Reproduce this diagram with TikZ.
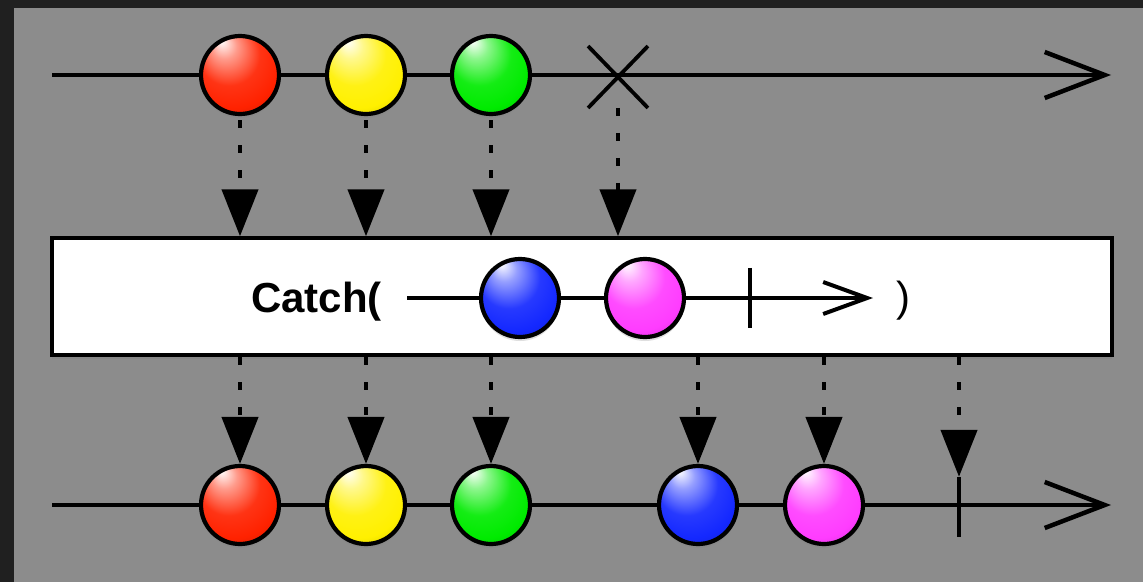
\documentclass[tikz,border=0pt]{standalone}
\usepackage{fontspec}
\setmainfont{Liberation Sans}
\usetikzlibrary{arrows.meta,shadows,shapes.misc}
\definecolor{bgdark}{RGB}{32,32,32}
\definecolor{bggray}{RGB}{140,140,140}
\definecolor{mred}{RGB}{255,34,0}
\definecolor{myellow}{RGB}{255,240,0}
\definecolor{mgreen}{RGB}{0,235,0}
\definecolor{mblue}{RGB}{20,40,255}
\definecolor{mmagenta}{RGB}{255,60,255}
\newcommand\declmarble[1]{%
  \pgfdeclareradialshading{marble#1}{\pgfpoint{-12bp}{22bp}}{%
    color(0bp)=(white);
    color(8bp)=(#1!45!white);
    color(20bp)=(#1!92!white);
    color(30bp)=(#1);
    color(40bp)=(#1!80!black);
    color(50bp)=(#1!50!black)}}
\declmarble{mred}
\declmarble{myellow}
\declmarble{mgreen}
\declmarble{mblue}
\declmarble{mmagenta}
\begin{document}
\begin{tikzpicture}[x=1pt,y=-1pt,
  marble/.style={circle, draw=black, line width=4.2pt, minimum size=78pt, inner sep=0pt, shading=marble#1,
     drop shadow={opacity=0.25, shadow xshift=0pt, shadow yshift=-4pt}},
  timeline/.style={line width=4.5pt, -{Straight Barb[length=60pt, width=46pt, line width=4.5pt]}},
  innerline/.style={line width=3.5pt, -{Straight Barb[length=44pt, width=32pt, line width=4pt]}},
  conn/.style={line width=4.5pt, dash pattern=on 8pt off 17pt, -{Triangle[length=47pt, width=36pt]}},
  tickmark/.style={draw=none, minimum width=0pt, minimum height=#1, inner sep=0pt},
  tickline/.style={line width=4pt},
]
% background
\fill[bgdark] (0,0) rectangle (1143,582);
\fill[bggray] (14,8) rectangle (1143,582);
\useasboundingbox (0,0) rectangle (1143,582);

% ---------- top timeline ----------
\coordinate (s1) at (52,75);
\coordinate (e1) at (1111,75);
\draw[timeline] (s1) -- (e1);
\node[cross out, draw=black, line width=3.8pt, minimum width=56pt, minimum height=58pt, inner sep=0pt] (x1) at (618,77) {};

% ---------- operator box ----------
\node[draw=black, fill=white, line width=3.5pt, minimum width=1060pt, minimum height=117pt, inner sep=0pt,
      drop shadow={opacity=0.35, shadow xshift=0pt, shadow yshift=-4pt}] (box) at (582,296.5) {};
\node[anchor=base west, inner sep=0pt, font=\fontsize{42}{50}\selectfont\bfseries] (lbl) at (251,312) {Catch(};
\node[anchor=base west, inner sep=0pt, font=\fontsize{42}{50}\selectfont] (rp) at (896,311) {)};
\coordinate (s2) at (407,298);
\coordinate (e2) at (873,298);
\draw[innerline] (s2) -- (e2);
\node[tickmark=60pt] (t2) at (750,298) {};
\draw[tickline] (t2.north) -- (t2.south);

% ---------- bottom timeline ----------
\coordinate (s3) at (52,505);
\coordinate (e3) at (1111,505);
\draw[timeline] (s3) -- (e3);
\node[tickmark=60pt] (t3) at (959,507) {};
\draw[tickline] (t3.north) -- (t3.south);

% ---------- connectors top -> box ----------
\coordinate (r1s) at (240,115);
\coordinate (y1s) at (366,115);
\coordinate (g1s) at (491,115);
\draw[conn, dash phase=20pt] (r1s) -- (r1s |- box.north);
\draw[conn, dash phase=20pt] (y1s) -- (y1s |- box.north);
\draw[conn, dash phase=20pt] (g1s) -- (g1s |- box.north);
\draw[conn] (x1.south) -- (x1.south |- box.north);

% ---------- connectors box -> bottom ----------
\coordinate (b1) at (240,357);
\coordinate (b2) at (366,357);
\coordinate (b3) at (491,357);
\coordinate (b4) at (698,357);
\coordinate (b5) at (824,357);
\coordinate (b6) at (959,357);
\node[marble=mred] (r3) at (240,505) {};
\node[marble=myellow] (y3) at (366,505) {};
\node[marble=mgreen] (g3) at (491,505) {};
\node[marble=mblue] (bl3) at (698,505) {};
\node[marble=mmagenta] (p3) at (824,505) {};
\draw[conn] (b1) -- (r3.north);
\draw[conn] (b2) -- (y3.north);
\draw[conn] (b3) -- (g3.north);
\draw[conn] (b4) -- (bl3.north);
\draw[conn] (b5) -- (p3.north);
\draw[conn] (b6) -- (t3.north);

% ---------- marbles ----------
\node[marble=mred] (r1) at (240,75) {};
\node[marble=myellow] (y1) at (366,75) {};
\node[marble=mgreen] (g1) at (491,75) {};
\node[marble=mblue] (bl2) at (520,298) {};
\node[marble=mmagenta] (p2) at (645,298) {};
\end{tikzpicture}
\end{document}
